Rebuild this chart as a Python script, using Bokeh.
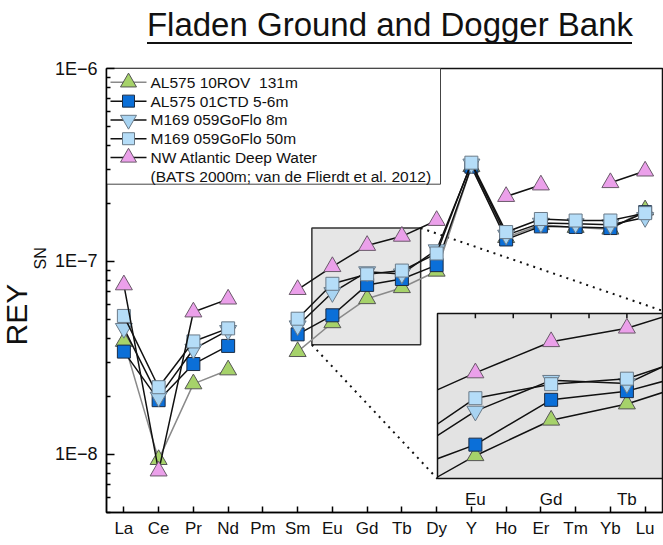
import math
from bokeh.plotting import figure
from bokeh.models import (Range1d, FixedTicker, CustomJSTickFormatter, LinearAxis, GridBox,
                          Label, Div)
from bokeh.core.properties import value
from bokeh.embed import file_html
from bokeh.resources import INLINE

nan = float("nan")

# ---------------- data ----------------
elements = ["La", "Ce", "Pr", "Nd", "Pm", "Sm", "Eu", "Gd", "Tb", "Dy",
            "Y", "Ho", "Er", "Tm", "Yb", "Lu"]

al575_10rov_131m = [3.85e-8, 9.4e-9, 2.32e-8, 2.74e-8, nan, 3.41e-8, 4.81e-8, 6.41e-8,
                    7.31e-8, 8.9e-8, 3.10e-7, 1.33e-7, 1.55e-7, 1.50e-7, 1.47e-7, 1.85e-7]
al575_01ctd_5_6m = [3.41e-8, 1.91e-8, 2.94e-8, 3.65e-8, nan, 4.19e-8, 5.26e-8, 7.56e-8,
                    8.11e-8, 9.57e-8, 3.10e-7, 1.30e-7, 1.52e-7, 1.51e-7, 1.49e-7, 1.80e-7]
m169_059gofio_8m = [4.50e-8, 1.98e-8, 3.51e-8, 4.39e-8, nan, 4.64e-8, 6.90e-8, 8.85e-8,
                    8.62e-8, 1.15e-7, 3.20e-7, 1.37e-7, 1.58e-7, 1.57e-7, 1.55e-7, 1.69e-7]
m169_059gofio_50m = [5.22e-8, 2.23e-8, 3.85e-8, 4.50e-8, nan, 5.05e-8, 7.66e-8, 8.58e-8,
                     8.97e-8, 1.10e-7, 3.25e-7, 1.42e-7, 1.66e-7, 1.63e-7, 1.63e-7, 1.78e-7]
nw_atlantic_dw = [7.56e-8, 8.2e-9, 5.47e-8, 6.38e-8, nan, 7.15e-8, 9.40e-8, 1.21e-7,
                  1.35e-7, 1.63e-7, nan, 2.17e-7, 2.49e-7, nan, 2.56e-7, 2.94e-7]

series_labels = ["AL575 10ROV\u00a0 131m", "AL575 01CTD 5-6m", "M169 059GoFlo 8m",
                 "M169 059GoFlo 50m", "NW Atlantic Deep Water"]
legend_note = "(BATS 2000m; van de Flierdt et al. 2012)"
title_text = "Fladen Ground and Dogger Bank"
y_title, y_sub = "REY", "SN"
inset_elements = [6, 7, 8]

# ---------------- styles / layout ----------------
FONT = "Liberation Sans"
W, H = 663, 545
FL, FR, FT, FB = 106, 662, 68, 517          # main frame edges (canvas px)
X_RANGE = (-0.5, 15.5)
Y_RANGE = (5e-9, 1e-6)
ZOOM_X = (5.41, 8.54)                       # grey zoom box in main plot
ZOOM_Y = (3.7e-8, 1.49e-7)
INSET_L, INSET_T, INSET_R, INSET_B = 437, 313, 662, 483
INSET_X = (5.5, 8.47)
INSET_Y = (4.0e-8, 1.52e-7)
LEG_L, LEG_T, LEG_R, LEG_B = 106, 68, 440, 185
LEG_ROW0, LEG_STEP = 82, 19

styles = [
    dict(marker="triangle", fill="#A6D26A", line="#8a8a8a", mline="#555555", size=17),
    dict(marker="square", fill="#0B6FD8", line="#111111", mline="#1c2c44", size=13),
    dict(marker="inverted_triangle", fill="#A8D4F2", line="#111111", mline="#6a7a88", size=17),
    dict(marker="square", fill="#B5DDF8", line="#111111", mline="#6a7a88", size=13),
    dict(marker="triangle", fill="#EBA0EA", line="#111111", mline="#6a5a6a", size=17),
]
all_series = [al575_10rov_131m, al575_01ctd_5_6m, m169_059gofio_8m,
              m169_059gofio_50m, nw_atlantic_dw]
xs = list(range(len(elements)))


def sx_to_x(sx):
    return X_RANGE[0] + (sx - FL) / (FR - FL) * (X_RANGE[1] - X_RANGE[0])


def sy_to_y(sy):
    l0, l1 = math.log10(Y_RANGE[0]), math.log10(Y_RANGE[1])
    return 10 ** (l1 - (sy - FT) / (FB - FT) * (l1 - l0))


# ---------------- main figure ----------------
p = figure(width=W, height=H, x_range=Range1d(*X_RANGE), y_range=Range1d(*Y_RANGE),
           y_axis_type="log", output_backend="svg", toolbar_location=None, title=None,
           min_border_left=FL, min_border_right=W - FR, min_border_top=FT,
           min_border_bottom=H - FB)
p.grid.visible = False
p.outline_line_color = "#111111"
p.outline_line_width = 1.5
p.background_fill_color = "white"
p.border_fill_color = "white"

xa = p.xaxis[0]
xa.ticker = FixedTicker(ticks=xs)
xa.major_label_overrides = {i: e for i, e in enumerate(elements)}
xa.major_tick_in = 6
xa.major_tick_out = 0
xa.minor_tick_line_color = None
xa.axis_line_width = 1.5
xa.major_tick_line_width = 1.5
xa.major_label_text_font = FONT
xa.major_label_text_font_size = "17px"
xa.major_label_text_color = "#111111"
xa.major_label_standoff = 6

ya = p.yaxis[0]
minor = [k * 10 ** e for e in (-9, -8, -7) for k in range(2, 10)]
ya.ticker = FixedTicker(ticks=[1e-8, 1e-7, 1e-6],
                        minor_ticks=[m for m in minor if Y_RANGE[0] <= m <= Y_RANGE[1]])
ya.formatter = CustomJSTickFormatter(
    code="return '1E\u2212' + Math.round(-Math.log10(tick));")
ya.major_tick_in = 8
ya.major_tick_out = 0
ya.minor_tick_in = 4
ya.minor_tick_out = 0
ya.axis_line_width = 1.5
ya.major_tick_line_width = 1.5
ya.minor_tick_line_width = 1.5
ya.major_label_text_font = FONT
ya.major_label_text_font_size = "18px"
ya.major_label_text_color = "#111111"
ya.major_label_standoff = 9

# title (above panel), y title REY (left panel) and its subscript SN (above panel)
p.add_layout(Label(x=389.5 - FL, y=44, x_units="screen", y_units="screen",
                   text=title_text, text_align="center", text_baseline="alphabetic",
                   text_font=FONT, text_font_size="33px", text_color="#111111"), "above")
p.add_layout(Label(x=-66, y=30 - 268, x_units="screen", y_units="screen",
                   text=y_sub, angle=math.pi / 2, text_align="left",
                   text_baseline="alphabetic", text_font=FONT, text_font_size="16px",
                   text_color="#111111"), "above")
p.add_layout(Label(x=-2, y=FB - 350, x_units="screen", y_units="screen",
                   text=y_title, angle=math.pi / 2, text_align="left",
                   text_baseline="alphabetic", text_font=FONT, text_font_size="30px",
                   text_color="#111111"), "left")

# grey zoom box and dotted connectors
p.quad(left=[ZOOM_X[0]], right=[ZOOM_X[1]], bottom=[ZOOM_Y[0]], top=[ZOOM_Y[1]],
       fill_color="#E6E6E6", line_color="#333333", line_width=1.5, level="underlay")
p.segment(x0=[ZOOM_X[0], ZOOM_X[1]], y0=[ZOOM_Y[0], ZOOM_Y[1]],
          x1=[sx_to_x(INSET_L), sx_to_x(INSET_R)], y1=[sy_to_y(INSET_B), sy_to_y(INSET_T)],
          line_color="#111111", line_width=2, line_dash="2 5", level="underlay")

for ys, st in zip(all_series, styles):
    p.line(xs, ys, line_color=st["line"], line_width=1.5)
    p.scatter(xs, ys, marker=st["marker"], size=st["size"], fill_color=st["fill"],
              line_color=st["mline"], line_width=1)

# ---------------- legend (drawn by hand) ----------------
p.quad(left=[sx_to_x(LEG_L)], right=[sx_to_x(LEG_R)], bottom=[sy_to_y(LEG_B)],
       top=[sy_to_y(LEG_T)], fill_color="white", line_color="#444444", line_width=1)
rows = [sy_to_y(LEG_ROW0 + LEG_STEP * i) for i in range(len(series_labels) + 1)]
for i, st in enumerate(styles):
    p.segment(x0=[sx_to_x(110)], x1=[sx_to_x(146)], y0=[rows[i]], y1=[rows[i]],
              line_color=st["line"], line_width=1.5)
    p.scatter([sx_to_x(128)], [rows[i]], marker=st["marker"], size=st["size"] - 1,
              fill_color=st["fill"], line_color=st["mline"], line_width=1)
p.text(x=[sx_to_x(150)] * len(rows), y=rows, text=series_labels + [legend_note],
       text_font=value(FONT), text_font_size=value("15.5px"), text_color="#111111",
       text_baseline="middle", text_align="left")

# ---------------- inset figure ----------------
# (grid alignment gives the inset the same border sizes as the main figure)
inset = figure(width=FL + (INSET_R - INSET_L) + (W - FR),
               height=FT + (INSET_B - INSET_T) + (H - FB),
               x_range=Range1d(*INSET_X), y_range=Range1d(*INSET_Y), y_axis_type="log",
               x_axis_location=None, y_axis_location=None, output_backend="svg",
               toolbar_location=None, title=None, min_border_left=FL,
               min_border_right=W - FR, min_border_top=FT, min_border_bottom=H - FB)
inset.grid.visible = False
inset.background_fill_color = "#E3E3E3"
inset.border_fill_color = None
inset.outline_line_color = "#111111"
inset.outline_line_width = 1.5

bot_ax = LinearAxis(ticker=FixedTicker(ticks=inset_elements),
                    major_label_overrides={i: elements[i] for i in inset_elements},
                    major_tick_line_color=None, minor_tick_line_color=None,
                    axis_line_color=None, major_label_standoff=5,
                    major_label_text_font=FONT, major_label_text_font_size="17px",
                    major_label_text_color="#111111")
inset.add_layout(bot_ax, "below")

# tick marks along the inset's top edge (at Eu, Gd, Tb and half-way between)
tick_x = sorted(inset_elements + [(a + b) / 2 for a, b in zip(inset_elements, inset_elements[1:])])
il0, il1 = math.log10(INSET_Y[0]), math.log10(INSET_Y[1])
tick_end = 10 ** (il1 - 5 / (INSET_B - INSET_T) * (il1 - il0))
inset.segment(x0=tick_x, x1=tick_x, y0=[INSET_Y[1]] * len(tick_x), y1=[tick_end] * len(tick_x),
              line_color="#111111", line_width=1.5)

for ys, st in zip(all_series, styles):
    inset.line(xs, ys, line_color="#111111", line_width=1.5)
    inset.scatter(xs, ys, marker=st["marker"], size=st["size"], fill_color=st["fill"],
                  line_color=st["mline"], line_width=1)

inset.margin = (INSET_T - FT, 0, 0, INSET_L - FL)

# underline of the title
underline = Div(text="", width=485, height=2, margin=(42, 0, 0, 147),
                styles={"background-color": "#111111"})

grid = GridBox(children=[(p, 0, 0), (inset, 0, 0), (underline, 0, 0)])
open("out.html", "w").write(file_html(grid, INLINE))
